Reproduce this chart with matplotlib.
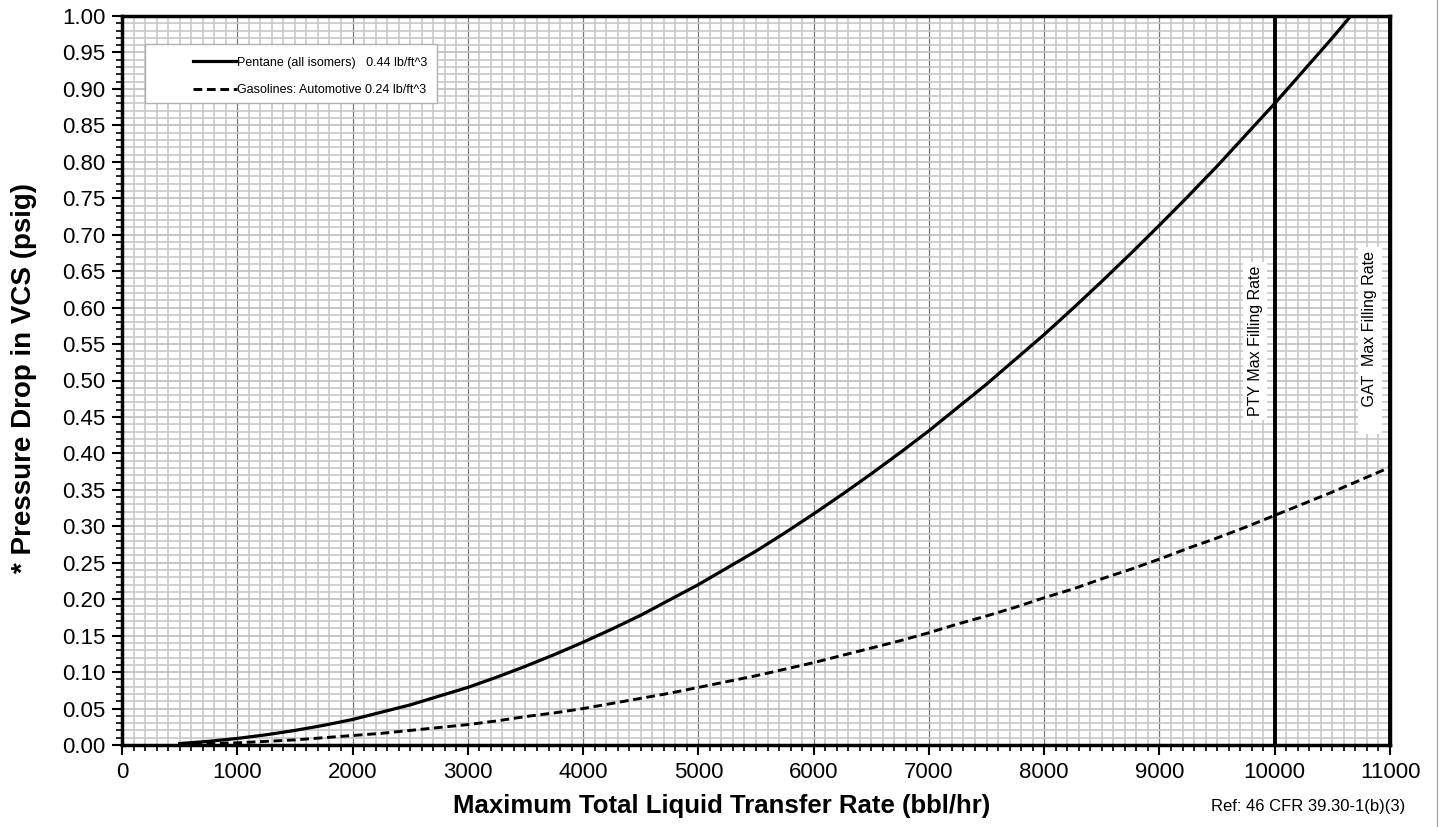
import matplotlib.pyplot as plt
from matplotlib.ticker import MultipleLocator
from matplotlib.lines import Line2D
from matplotlib.patches import Rectangle

plt.rcParams['font.family'] = ['Liberation Sans', 'DejaVu Sans']

# Values
rate = [500, 750, 1000, 1250, 1500, 1750, 2000, 2250, 2500, 2750, 3000, 3250, 3500, 3750,
        4000, 4250, 4500, 4750, 5000, 5250, 5500, 5750, 6000, 6250, 6500, 6750, 7000, 7250,
        7500, 7750, 8000, 8250, 8500, 8750, 9000, 9250, 9500, 9750, 10000, 10250, 10500,
        10750, 11000]
pentane = [0.002, 0.005, 0.009, 0.014, 0.020, 0.027, 0.035, 0.045, 0.055, 0.067, 0.079,
           0.093, 0.108, 0.124, 0.141, 0.159, 0.178, 0.199, 0.220, 0.243, 0.266, 0.291,
           0.317, 0.344, 0.372, 0.401, 0.431, 0.463, 0.495, 0.529, 0.563, 0.599, 0.636,
           0.674, 0.713, 0.753, 0.794, 0.837, 0.880, 0.925, 0.970, 1.017, 1.065]
gasoline = [0.001, 0.002, 0.003, 0.005, 0.007, 0.010, 0.013, 0.016, 0.020, 0.024, 0.028,
            0.033, 0.039, 0.044, 0.050, 0.057, 0.064, 0.071, 0.079, 0.087, 0.095, 0.104,
            0.113, 0.123, 0.133, 0.143, 0.154, 0.166, 0.177, 0.189, 0.202, 0.214, 0.228,
            0.241, 0.255, 0.270, 0.284, 0.299, 0.315, 0.331, 0.347, 0.364, 0.381]
pty_rate = 10000
gat_rate = 11000

W, H = 1440, 827
fig = plt.figure(figsize=(14.4, 8.27), dpi=100)
ax = fig.add_axes([122 / W, 1 - 745 / H, 1268 / W, 729 / H])

# grid
ax.xaxis.set_major_locator(MultipleLocator(1000))
ax.xaxis.set_minor_locator(MultipleLocator(100))
ax.yaxis.set_major_locator(MultipleLocator(0.05))
ax.yaxis.set_minor_locator(MultipleLocator(0.01))
ax.grid(which='minor', color='#c8c8c8', linewidth=1.2)
ax.grid(which='major', axis='y', color='#bdbdbd', linewidth=1.2)
ax.grid(which='major', axis='x', color='#7a7a7a', linewidth=0.9)
ax.set_axisbelow(True)

ax.plot(rate, pentane, color='black', linewidth=2.3, label='Pentane (all isomers)   0.44 lb/ft^3')
ax.plot(rate, gasoline, color='black', linewidth=2.1, linestyle=(0, (3, 1.6)),
        label='Gasolines: Automotive 0.24 lb/ft^3')

ax.axvline(pty_rate, color='black', linewidth=2.8)
ax.axvline(gat_rate, color='black', linewidth=2.8)

ax.text(9829, 0.554, 'PTY Max Filling Rate', rotation=90, ha='center', va='center',
        fontsize=11.5, bbox=dict(facecolor='white', edgecolor='none', pad=3))
ax.text(10826, 0.555, '     GAT  Max Filling Rate', rotation=90, ha='center', va='center',
        fontsize=11.5, bbox=dict(facecolor='white', edgecolor='none', pad=3))

ax.set_xlim(0, 11000)
ax.set_ylim(0, 1.0)
ax.yaxis.set_major_formatter(plt.FuncFormatter(lambda v, p: f'{v:.2f}'))

ax.tick_params(which='major', direction='out', length=7, width=1.5, labelsize=16, pad=5)
ax.tick_params(which='minor', direction='out', length=4.5, width=1.2)
for s in ax.spines.values():
    s.set_linewidth(2.5)

fig.text(722 / W, 1 - 806 / H, 'Maximum Total Liquid Transfer Rate (bbl/hr)',
         ha='center', va='center', fontsize=18.5, fontweight='bold')
fig.text(24 / W, 1 - 378 / H, '* Pressure Drop in VCS (psig)', rotation=90,
         ha='center', va='center', fontsize=20, fontweight='bold')

# legend box
ax.add_patch(Rectangle((145 / W, 1 - 103 / H), 292 / W, 59 / H, transform=fig.transFigure,
                       facecolor='white', edgecolor='#b0b0b0', linewidth=1.0, zorder=4))
ax.legend(loc='center left', bbox_to_anchor=(193 / W, 1 - 76.5 / H),
          bbox_transform=fig.transFigure, fontsize=9, frameon=False,
          handlelength=3.5, handletextpad=0.05, borderpad=0, labelspacing=1.25,
          borderaxespad=0)

fig.text(1405 / W, 1 - 807 / H, 'Ref: 46 CFR 39.30-1(b)(3)', ha='right', va='center', fontsize=12)
fig.add_artist(Line2D([0.998, 0.998], [0, 1], color='#aaaaaa', linewidth=1, transform=fig.transFigure))

fig.savefig('out.png', dpi=100)
